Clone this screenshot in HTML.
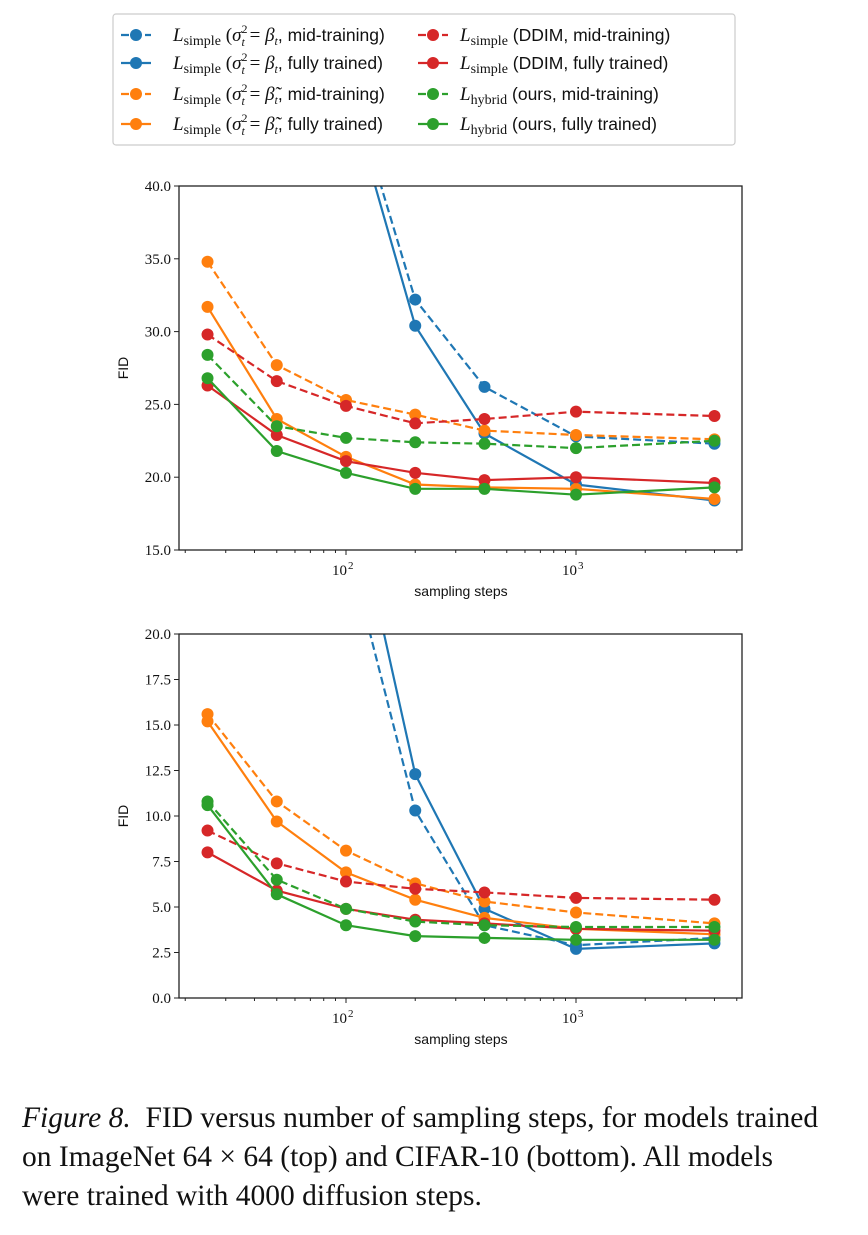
<!DOCTYPE html>
<html><head><meta charset="utf-8"><style>
body{margin:0;background:#fff;width:868px;height:1235px;overflow:hidden;font-family:"Liberation Sans",sans-serif}
svg{position:absolute;left:0;top:0}
#cap{position:absolute;left:22px;top:1099px;font-family:"Liberation Serif",serif;font-size:29.5px;line-height:39px;color:#111;width:860px;white-space:nowrap}
</style></head><body>
<svg id="fig" width="868" height="1235"></svg>
<div id="cap"><i>Figure 8.</i>&nbsp; FID versus number of sampling steps, for models trained<br>on ImageNet 64 × 64 (top) and CIFAR-10 (bottom). All models<br>were trained with 4000 diffusion steps.</div>
<script>
const steps=[25,50,100,200,400,1000,4000];
const seriesNames=["blue-mid","blue-full","orange-mid","orange-full","red-mid","red-full","green-mid","green-full"];
const colors=["#1f77b4","#1f77b4","#ff7f0e","#ff7f0e","#d62728","#d62728","#2ca02c","#2ca02c"];
const dashed=[true,false,true,false,true,false,true,false];
const topBlueMid=[90,70,48,32.2,26.2,22.8,22.3];
const topBlueFull=[90,70,47,30.4,23.0,19.5,18.4];
const topOrangeMid=[34.8,27.7,25.3,24.3,23.2,22.9,22.6];
const topOrangeFull=[31.7,24.0,21.4,19.5,19.3,19.2,18.5];
const topRedMid=[29.8,26.6,24.9,23.7,24.0,24.5,24.2];
const topRedFull=[26.3,22.9,21.1,20.3,19.8,20.0,19.6];
const topGreenMid=[28.4,23.5,22.7,22.4,22.3,22.0,22.5];
const topGreenFull=[26.8,21.8,20.3,19.2,19.2,18.8,19.3];
const botBlueMid=[45,35,25.2,10.3,4.0,2.9,3.3];
const botBlueFull=[50,40,29.4,12.3,4.9,2.7,3.0];
const botOrangeMid=[15.6,10.8,8.1,6.3,5.3,4.7,4.1];
const botOrangeFull=[15.2,9.7,6.9,5.4,4.4,3.8,3.5];
const botRedMid=[9.2,7.4,6.4,6.0,5.8,5.5,5.4];
const botRedFull=[8.0,5.9,4.9,4.3,4.1,3.8,3.7];
const botGreenMid=[10.8,6.5,4.9,4.2,4.0,3.9,3.9];
const botGreenFull=[10.6,5.7,4.0,3.4,3.3,3.2,3.2];
const topTicks=["15.0","20.0","25.0","30.0","35.0","40.0"];
const botTicks=["0.0","2.5","5.0","7.5","10.0","12.5","15.0","17.5","20.0"];
const legendLabels=[["σ","β","mid-training"],["σ","β","fully trained"],["σ","β̃","mid-training"],["σ","β̃","fully trained"],["DDIM, mid-training"],["DDIM, fully trained"],["ours, mid-training"],["ours, fully trained"]];

const NS="http://www.w3.org/2000/svg";
const svg=document.getElementById('fig');
function mk(t,a,p){const e=document.createElementNS(NS,t);for(const k in a)e.setAttribute(k,a[k]);(p||svg).appendChild(e);return e;}
const X0=179,X1=742;
function xs(v){return 346+230*Math.log10(v/100);}

function chart(name,top,bot,ymin,ymax,ticks,data){
  const g=mk('g',{});
  
  
  const ys=v=>bot-(v-ymin)/(ymax-ymin)*(bot-top);
  const cid='clip-'+name;
  const cp=mk('clipPath',{id:cid},g);mk('rect',{x:X0,y:top,width:X1-X0,height:bot-top},cp);
  const pg=mk('g',{'clip-path':'url(#'+cid+')'},g);
  data.forEach((vals,i)=>{
    const pts=steps.map((s,j)=>xs(s).toFixed(1)+','+ys(vals[j]).toFixed(1)).join(' ');
    const l=mk('polyline',{points:pts,fill:'none',stroke:colors[i],'stroke-width':2.2,'stroke-dasharray':dashed[i]?'8,4':'none'},pg);
    
    
    steps.forEach((s,j)=>{
      const c=mk('circle',{cx:xs(s),cy:ys(vals[j]),r:6,fill:colors[i]},pg);
      
      
    });
  });
  mk('rect',{x:X0,y:top,width:X1-X0,height:bot-top,fill:'none',stroke:'#222','stroke-width':1.3},g);
  ticks.forEach(t=>{
    const y=ys(parseFloat(t));
    mk('line',{x1:X0-5,x2:X0,y1:y,y2:y,stroke:'#222','stroke-width':1},g);
    const tx=mk('text',{x:X0-8,y:y+5,'text-anchor':'end','font-family':'Liberation Serif, serif','font-size':15,fill:'#111'},g);
    tx.textContent=t;
    
    
  });
  for(let d=10;d<=1000;d*=10)for(let m=1;m<10;m++){
    const v=d*m;const x=xs(v);if(x<X0||x>X1)continue;
    const major=m===1;
    mk('line',{x1:x,x2:x,y1:bot,y2:bot+(major?5:3),stroke:'#222','stroke-width':1},g);
    if(major){
      const tx=mk('text',{x:x+1,y:bot+25,'text-anchor':'end','font-family':'Liberation Serif, serif','font-size':15,fill:'#111'},g);
      tx.textContent='10';
      
      
      const sp=mk('text',{x:x+2,y:bot+19,'font-family':'Liberation Serif, serif','font-size':11,fill:'#111'},g);
      sp.textContent=String(Math.log10(v));
    }
  }
  const xl=mk('text',{x:461,y:bot+46,'text-anchor':'middle','font-size':14,fill:'#111'},g);
  xl.textContent='sampling steps';
  
  
  const yl=mk('text',{x:0,y:0,'text-anchor':'middle','font-size':14,fill:'#111',transform:'translate(128,'+((top+bot)/2)+') rotate(-90)'},g);
  yl.textContent='FID';
  
  
}
chart('top-chart',186,550,15,40,topTicks,[topBlueMid,topBlueFull,topOrangeMid,topOrangeFull,topRedMid,topRedFull,topGreenMid,topGreenFull]);
chart('bottom-chart',634,998,0,20,botTicks,[botBlueMid,botBlueFull,botOrangeMid,botOrangeFull,botRedMid,botRedFull,botGreenMid,botGreenFull]);

// legend
const lg=mk('g',{});


mk('rect',{x:113,y:14,width:622,height:131,rx:3,fill:'#fff',stroke:'#ccc','stroke-width':1.2},lg);
const rowsY=[35,63,94,124];
const SER='font-family="Liberation Serif, serif"';
legendLabels.forEach((lab,i)=>{
  const col=i<4?0:1,row=i%4;
  const hx=col?418:121,tx=col?460:173,y=rowsY[row];
  const e=mk('g',{},lg);
  
  
  mk('line',{x1:hx,x2:hx+30,y1:y,y2:y,stroke:colors[i],'stroke-width':2.2,'stroke-dasharray':dashed[i]?'8,4':'none'},e);
  mk('circle',{cx:hx+15,cy:y,r:6,fill:colors[i]},e);
  const t=mk('text',{x:tx,y:y+6,'font-size':17.5,fill:'#111'},e);
  const sub=i>=6?'hybrid':'simple';
  let h='<tspan '+SER+' font-style="italic" font-size="19">L</tspan><tspan '+SER+' font-size="14" dy="4">'+sub+'</tspan><tspan dy="-4"> </tspan>';
  if(lab.length===3){
    h+='<tspan '+SER+' font-size="19">(<tspan font-style="italic">σ</tspan></tspan><tspan '+SER+' font-size="12" dy="-8">2</tspan><tspan '+SER+' font-size="12" dx="-6" dy="13" font-style="italic">t</tspan><tspan '+SER+' font-size="19" dy="-5"> = <tspan font-style="italic">'+lab[1]+'</tspan></tspan><tspan '+SER+' font-size="12" font-style="italic" dy="4">t</tspan><tspan dy="-4">, '+lab[2]+')</tspan>';
  } else h+='('+lab[0]+')';
  t.innerHTML=h;
});
</script>
</body></html>
